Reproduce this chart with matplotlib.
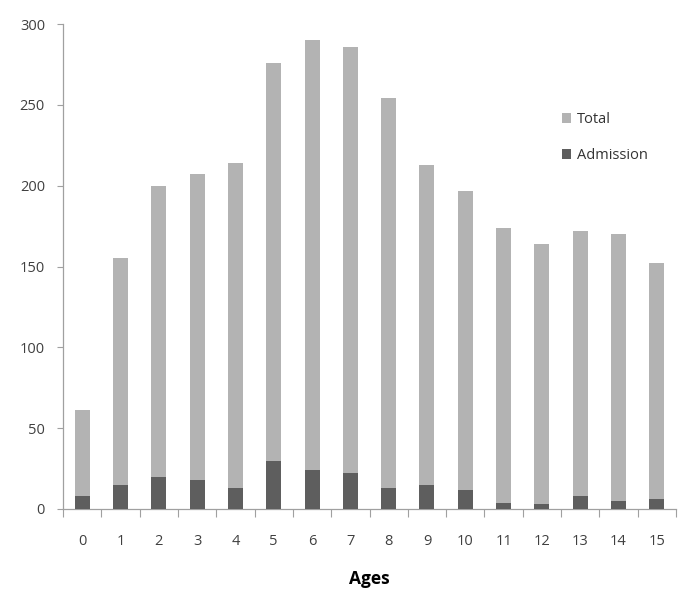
import matplotlib
matplotlib.use("Agg")
import matplotlib.pyplot as plt
import numpy as np

ages = [str(i) for i in range(16)]
total = [61, 155, 200, 207, 214, 276, 290, 286, 254, 213, 197, 174, 164, 172, 170, 152]
admission = [8, 15, 20, 18, 13, 30, 24, 22, 13, 15, 12, 4, 3, 8, 5, 6]

plt.rcParams['font.family'] = ['Open Sans', 'DejaVu Sans']

fig = plt.figure(figsize=(6.85, 6.05), dpi=100)
ax = fig.add_axes([63/685, 1-509/605, (676-63)/685, (509-24)/605])

x = np.arange(len(ages))
w = 0.39
ax.bar(x, total, width=w, color='#b3b3b3', label='Total', zorder=2)
ax.bar(x, admission, width=w, color='#5e5e5e', label='Admission', zorder=3)

ax.set_xlim(-0.5, len(ages) - 0.5)
ax.set_ylim(0, 300)
ax.set_yticks(range(0, 301, 50))
ax.set_xticks(x)
ax.set_xticklabels(ages)
ax.set_xticks(np.arange(-0.5, len(ages), 1.0), minor=True)
ax.tick_params(axis='x', which='major', length=0, pad=18, labelsize=10.5, labelcolor='#404040')
ax.tick_params(axis='x', which='minor', length=6, color='#a0a0a0', width=0.8)
ax.tick_params(axis='y', length=4, color='#a0a0a0', width=0.8, labelsize=10.5, labelcolor='#404040', pad=9)

for s in ['top', 'right']:
    ax.spines[s].set_visible(False)
for s in ['left', 'bottom']:
    ax.spines[s].set_color('#a0a0a0')
    ax.spines[s].set_linewidth(0.9)

ax.set_xlabel('Ages', fontsize=12.5, fontweight='bold', labelpad=15)

fig.legend(loc='upper left', bbox_to_anchor=(549/685, 1-99/605), frameon=False,
           handlelength=0.6, handleheight=0.6, handletextpad=0.4, labelspacing=1.45,
           fontsize=10.5, labelcolor='#333333')

fig.savefig('out.png', dpi=100)
